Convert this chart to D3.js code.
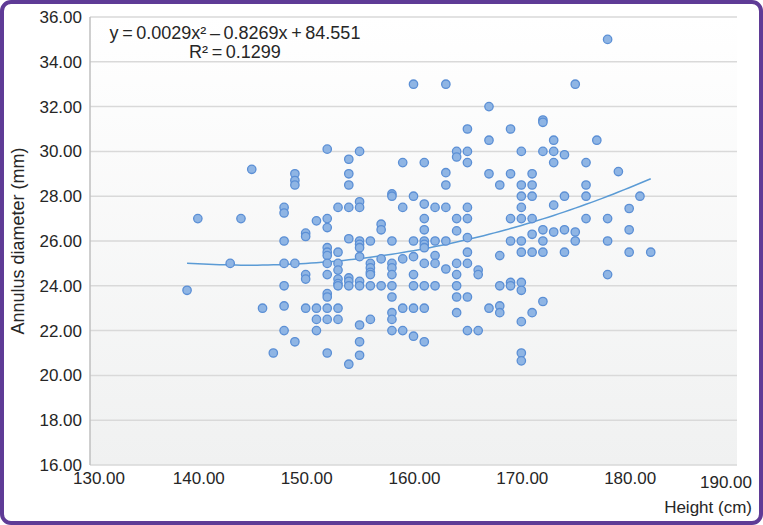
<!DOCTYPE html>
<meta charset="utf-8">
<script src="https://cdn.jsdelivr.net/npm/d3@7/dist/d3.min.js"></script>
<style>
body { margin: 0; background: #fff; }
text { font-family: "Liberation Sans", Arial, sans-serif; fill: #262626; }
.grid line { stroke: #d9d9d9; stroke-width: 1.5; }
.dot { fill: #8fb5e4; stroke: #5b8fd5; stroke-width: 1.3; }
.trend { fill: none; stroke: #5b9bd5; stroke-width: 1.5; }
</style>
<svg width="763" height="525"></svg>
<script>

// heights (cm) and the annulus diameters (mm) measured at each height
var heights = [139, 140, 143, 144, 145, 146, 147, 148, 149, 150, 151, 152, 153, 154, 155, 156, 157, 158, 159, 160,
    161, 162, 163, 164, 165, 166, 167, 168, 169, 170, 171, 172, 173, 174, 175, 176, 177, 178, 179, 180, 181, 182];
var diameters = [
    [23.8], [27.0], [25.0], [27.0], [29.2], [23.0], [21.0],
    [27.5, 27.25, 26.0, 25.0, 24.0, 23.1, 22.0],
    [29.0, 28.7, 28.5, 25.0, 21.5],
    [26.35, 26.2, 24.5, 24.3, 23.0],
    [26.9, 23.0, 22.5, 22.0],
    [30.1, 27.0, 26.6, 25.7, 25.5, 25.35, 25.0, 24.5, 23.65, 23.5, 23.0, 22.5, 21.0],
    [27.5, 25.5, 25.0, 24.7, 24.3, 24.1, 24.0, 23.0, 22.5],
    [29.65, 29.0, 28.5, 27.5, 26.1, 24.35, 24.2, 24.0, 20.5],
    [30.0, 27.75, 27.5, 26.0, 25.85, 25.7, 25.3, 24.2, 24.0, 22.25, 21.5, 20.9],
    [26.0, 25.0, 24.8, 24.6, 24.5, 24.0, 22.5],
    [26.75, 26.5, 25.2, 24.0],
    [28.1, 28.0, 26.0, 25.0, 24.8, 24.5, 24.0, 23.5, 22.8, 22.5, 22.0],
    [29.5, 27.5, 25.2, 23.0, 22.0],
    [33.0, 28.0, 26.0, 25.3, 24.5, 24.0, 23.0, 21.75],
    [29.5, 27.65, 27.0, 26.5, 26.0, 25.85, 25.7, 25.0, 24.0, 23.0, 21.5],
    [27.5, 26.0, 25.35, 25.0, 24.0],
    [33.0, 29.05, 28.5, 27.5, 26.0, 24.75],
    [30.0, 29.75, 27.0, 26.45, 25.0, 24.5, 24.0, 23.5, 22.8],
    [31.0, 30.0, 29.5, 27.5, 27.0, 26.15, 25.5, 25.0, 23.5, 22.0],
    [24.7, 24.5, 22.0],
    [32.0, 30.5, 29.0, 23.0],
    [28.5, 25.35, 24.0, 23.1, 22.8],
    [31.0, 29.0, 27.0, 26.0, 24.15, 24.0],
    [30.0, 28.5, 28.0, 27.5, 27.0, 26.0, 25.5, 24.15, 23.8, 22.4, 21.0, 20.65],
    [29.0, 28.5, 28.0, 27.0, 26.3, 25.5, 22.8],
    [31.4, 31.3, 30.0, 26.5, 26.0, 25.5, 23.3],
    [30.5, 30.0, 29.5, 27.6, 26.4],
    [29.85, 28.0, 26.5, 25.5],
    [33.0, 26.4, 26.0],
    [29.5, 28.5, 28.0, 27.0],
    [30.5],
    [35.0, 27.0, 26.0, 24.5],
    [29.1],
    [27.45, 26.5, 25.5],
    [28.0],
    [25.5]
];
var xTicks = [130, 140, 150, 160, 170, 180, 190];
var yTicks = [16, 18, 20, 22, 24, 26, 28, 30, 32, 34, 36];
var equation = ["y\u2009=\u20090.0029x\u00b2\u2009\u2013\u20090.8269x\u2009+\u200984.551", "R\u00b2\u2009=\u20090.1299"];

var points = [];
heights.forEach(function(h, i) {
    diameters[i].forEach(function(d) { points.push({h: h, d: d}); });
});

var svg = d3.select("svg");
var pLeft = 90, pRight = 737, pTop = 17, pBottom = 465;

var x = d3.scaleLinear().domain([130, 190]).range([pLeft, pRight]);
var y = d3.scaleLinear().domain([16, 36]).range([pBottom, pTop]);

// plot area gradient
var defs = svg.append("defs");
var grad = defs.append("linearGradient").attr("id", "bg")
    .attr("x1", 0).attr("y1", 0).attr("x2", 0).attr("y2", 1);
grad.append("stop").attr("offset", "0%").attr("stop-color", "#ffffff");
grad.append("stop").attr("offset", "100%").attr("stop-color", "#f0f1f1");

svg.append("rect")
    .attr("x", pLeft).attr("y", pTop)
    .attr("width", pRight - pLeft).attr("height", pBottom - pTop)
    .attr("fill", "url(#bg)");

svg.append("g").attr("class", "grid")
    .selectAll("line")
    .data(yTicks)
    .enter().append("line")
    .attr("x1", pLeft).attr("x2", pRight)
    .attr("y1", function(d) { return y(d); })
    .attr("y2", function(d) { return y(d); });

svg.append("line")
    .attr("x1", pLeft).attr("x2", pLeft)
    .attr("y1", pTop).attr("y2", pBottom)
    .attr("stroke", "#bfbfbf").attr("stroke-width", 1.5);

// y labels
svg.append("g")
    .selectAll("text")
    .data(yTicks)
    .enter().append("text")
    .attr("x", pLeft - 8)
    .attr("y", function(d) { return y(d) + 6; })
    .attr("text-anchor", "end")
    .attr("font-size", 17)
    .text(function(d) { return d3.format(".2f")(d); });

// x labels (Excel nudges the two end labels)
svg.append("g")
    .selectAll("text")
    .data(xTicks)
    .enter().append("text")
    .attr("x", function(d, i) {
        if (i == 0) return x(d) + 9;
        if (i == xTicks.length - 1) return x(d) - 11;
        return x(d) + 1;
    })
    .attr("y", function(d, i) { return i == xTicks.length - 1 ? 488 : 484; })
    .attr("text-anchor", "middle")
    .attr("font-size", 17)
    .text(function(d) { return d3.format(".2f")(d); });

svg.append("text")
    .attr("transform", "translate(24," + ((pTop + pBottom) / 2) + ") rotate(-90)")
    .attr("text-anchor", "middle")
    .attr("font-size", 18)
    .text("Annulus diameter (mm)");

svg.append("text")
    .attr("x", 752).attr("y", 513)
    .attr("text-anchor", "end")
    .attr("font-size", 17)
    .text("Height (cm)");

// quadratic least squares trend, like Excel's polynomial trendline
function polyFit(pts) {
    var s = [0, 0, 0, 0, 0], t = [0, 0, 0];
    pts.forEach(function(p) {
        var xp = 1;
        for (var k = 0; k < 5; k++) { s[k] += xp; if (k < 3) t[k] += xp * p.d; xp *= p.h; }
    });
    var m = [[s[0], s[1], s[2], t[0]], [s[1], s[2], s[3], t[1]], [s[2], s[3], s[4], t[2]]];
    for (var i = 0; i < 3; i++) {
        for (var j = i + 1; j < 3; j++) {
            var f = m[j][i] / m[i][i];
            for (var k = i; k < 4; k++) m[j][k] -= f * m[i][k];
        }
    }
    var c = [0, 0, 0];
    for (var i = 2; i >= 0; i--) {
        var v = m[i][3];
        for (var k = i + 1; k < 3; k++) v -= m[i][k] * c[k];
        c[i] = v / m[i][i];
    }
    return c;
}
var coef = polyFit(points);
var hMin = d3.min(heights), hMax = d3.max(heights);
var trend = d3.range(hMin, hMax + 0.01, 0.5).map(function(h) {
    return {h: h, d: coef[0] + coef[1] * h + coef[2] * h * h};
});

svg.append("path")
    .datum(trend)
    .attr("class", "trend")
    .attr("d", d3.line()
        .x(function(d) { return x(d.h); })
        .y(function(d) { return y(d.d); }));

svg.append("g")
    .selectAll("circle")
    .data(points)
    .enter().append("circle")
    .attr("class", "dot")
    .attr("cx", function(d) { return x(d.h); })
    .attr("cy", function(d) { return y(d.d); })
    .attr("r", 4.2);

svg.append("g")
    .selectAll("text")
    .data(equation)
    .enter().append("text")
    .attr("x", 235)
    .attr("y", function(d, i) { return 39 + i * 19; })
    .attr("text-anchor", "middle")
    .attr("font-size", 18)
    .text(function(d) { return d; });

// purple frame
svg.append("rect")
    .attr("x", 2).attr("y", 2)
    .attr("width", 759).attr("height", 521)
    .attr("rx", 9)
    .attr("fill", "none")
    .attr("stroke", "#5f3b96")
    .attr("stroke-width", 4);

</script>
